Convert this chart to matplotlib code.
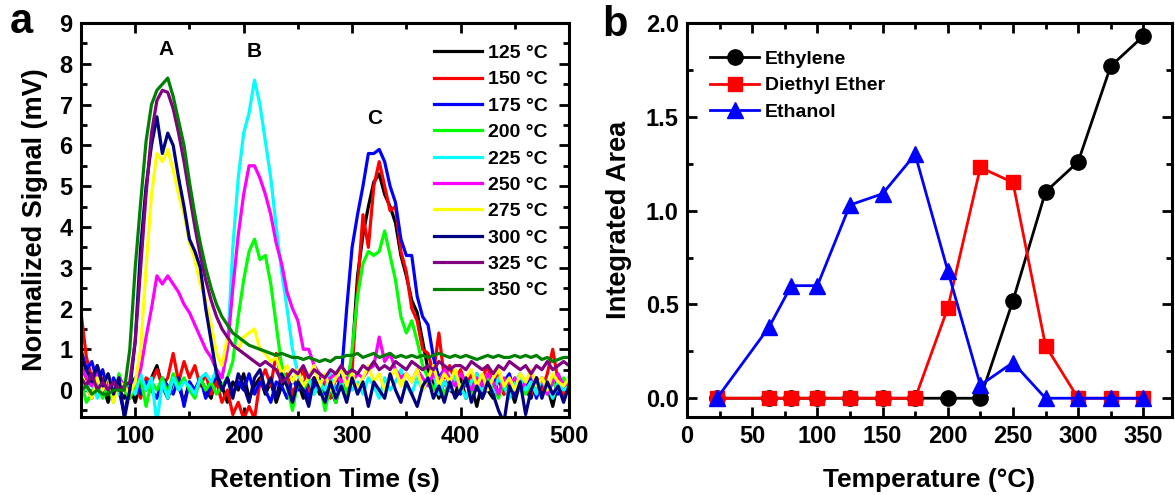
import numpy as np
import matplotlib.pyplot as plt
from matplotlib.ticker import MultipleLocator

plt.rcParams["font.family"] = ["Liberation Sans", "DejaVu Sans"]
plt.rcParams["font.weight"] = "bold"

# ---- panel a: chromatograms, sampled every 5 s from 50 to 500 s ----
time_s = np.arange(50, 501, 5)

sig_125 = [0.5, 0.1, -0.2, 0.3, 0.1, -0.3, 0.2, 0.0, -0.2, 0.1,
           -0.3, 0.2, 0.0, 0.3, 0.6, 0.1, -0.2, 0.2, 0.1, -0.3,
           0.2, -0.1, 0.3, 0.0, -0.2, 0.4, 0.1, -0.3, 0.2, 0.0,
           0.4, -0.2, 0.1, 0.3, -0.1, 0.2, -0.3, 0.1, 0.3, -0.1,
           0.2, -0.2, 0.1, 0.3, -0.1, 0.2, 0.0, -0.3, 0.2, 0.1,
           0.8, 2.8, 3.8, 4.5, 5.1, 5.3, 4.8, 4.5, 4.1, 3.3,
           2.8, 2.2, 1.9, 1.2, 0.5, 0.2, -0.2, 0.2, 0.0, -0.1,
           0.3, -0.2, 0.1, -0.4, 0.2, 0.0, -0.2, 0.3, -0.1, 0.1,
           -0.3, 0.2, 0.0, -0.2, 0.3, -0.1, 0.1, -0.4, 0.2, 0.0,
           0.1]
sig_150 = [1.9, 0.8, 0.3, 0.6, 0.2, 0.4, -0.1, 0.3, 0.0, -0.2,
           0.1, -0.2, 0.3, 0.2, 0.5, 0.1, 0.3, 0.9, 0.2, 0.7,
           0.3, 0.6, 0.1, 0.4, -0.1, 0.2, -0.3, 0.0, -0.6, -0.3,
           -0.7, -0.4, -0.7, 0.2, 0.5, 0.1, 0.9, 0.2, 0.4, -0.1,
           0.2, 0.5, -0.1, 0.3, 0.0, 0.2, -0.2, 0.3, 0.1, -0.1,
           0.5, 2.5, 4.3, 3.5, 5.0, 5.6, 5.0, 4.4, 4.5, 3.4,
           2.9, 2.0, 1.7, 1.0, 0.9, 0.4, 1.4, 0.3, 0.6, 0.2,
           0.5, 0.1, 0.4, 0.0, 0.3, 0.6, 0.1, 0.4, -0.1, 0.3,
           0.0, 0.4, 0.1, -0.1, 0.3, 0.0, 0.4, 1.0, 0.2, -0.2,
           0.3]
sig_175 = [1.0, 0.5, 0.7, 0.2, 0.5, -0.1, 0.3, 0.0, -0.6, 0.1,
           0.3, -0.1, 0.2, 0.0, -0.2, 0.3, 0.1, -0.1, 0.3, -0.4,
           0.2, 0.0, 0.3, -0.2, 0.1, 0.4, 0.0, 0.3, -0.1, 0.2,
           0.0, 0.4, -0.1, 0.2, 0.0, -0.3, 0.2, 0.1, -0.2, 0.3,
           0.0, 0.2, -0.2, 0.1, 0.3, -0.1, 0.2, 0.0, 0.3, 2.0,
           3.5, 4.3, 5.0, 5.8, 5.8, 5.9, 5.6, 5.0, 4.6, 3.7,
           3.3, 3.3, 2.3, 1.8, 1.6, 0.8, 0.3, 0.5, 0.1, 0.3,
           -0.1, 0.3, 0.0, 0.4, -0.2, 0.1, 0.3, -0.1, 0.2, 0.4,
           -0.1, 0.2, 0.0, 0.3, -0.2, 0.2, 0.0, 0.3, -0.1, 0.2,
           0.1]
sig_200 = [0.2, -0.3, -0.1, 0.2, -0.2, 0.1, -0.3, 0.4, 0.0, -0.2,
           0.1, 0.3, -0.4, 0.2, 0.0, 0.3, -0.1, 0.4, 0.1, 0.3,
           0.0, -0.2, 0.3, 0.0, 0.2, -0.1, 0.1, 0.3, 0.7, 1.8,
           2.7, 3.4, 3.7, 3.2, 3.3, 2.6, 1.6, 0.6, 0.1, -0.5,
           0.2, 0.0, 0.3, -0.1, 0.2, -0.5, 0.1, -0.3, 0.2, -0.1,
           1.0, 2.3, 3.1, 3.4, 3.3, 3.4, 3.9, 3.3, 2.7, 1.8,
           1.4, 1.7, 1.2, 0.6, 0.3, 0.0, 0.3, -0.1, 0.2, 0.4,
           0.0, 0.3, -0.1, 0.2, 0.0, 0.3, 0.1, -0.2, 0.2, 0.0,
           0.3, 0.1, -0.1, 0.2, 0.0, 0.3, -0.1, 0.2, 0.0, 0.3,
           0.1]
sig_225 = [0.3, 0.0, 0.2, -0.2, 0.1, 0.4, 0.0, -0.1, 0.2, 0.1,
           -0.1, 0.4, 0.0, 0.3, -0.8, 0.2, -0.2, 0.3, 0.0, 0.2,
           0.1, -0.1, 0.3, 0.4, 0.2, 0.5, 0.3, 1.0, 3.5, 5.2,
           6.3, 6.8, 7.6, 7.0, 6.1, 5.2, 4.0, 2.9, 2.0, 1.0,
           0.4, 0.1, 0.3, -0.1, 0.2, 0.0, 0.4, -0.2, 0.1, 0.3,
           0.0, 0.2, -0.1, 0.3, 0.1, -0.2, 0.3, 0.0, 0.2, 0.5,
           0.1, -0.1, 0.3, 0.0, 0.2, 0.4, -0.1, 0.2, 0.0, 0.3,
           0.1, -0.2, 0.2, 0.4, 0.0, 0.2, -0.1, 0.3, 0.1, -0.2,
           0.2, 0.4, 0.0, 0.2, -0.1, 0.3, 0.1, -0.2, 0.2, 0.0,
           0.1]
sig_250 = [0.6, 0.3, 0.1, 0.4, 0.0, 0.2, -0.1, 0.3, 0.1, 0.0,
           0.2, 0.5, 1.3, 2.0, 2.8, 2.6, 2.8, 2.6, 2.4, 2.1,
           1.9, 1.6, 1.3, 1.0, 0.8, 0.5, 0.3, 1.0, 2.5, 3.8,
           4.8, 5.5, 5.5, 5.2, 4.8, 4.3, 3.6, 3.1, 2.4, 2.0,
           1.7, 1.0, 1.0, 0.6, 0.4, 0.2, 0.3, 0.4, 0.2, 0.3,
           0.2, 0.4, 0.3, 0.5, 0.6, 1.3, 0.7, 0.9, 0.5, 0.3,
           0.4, 0.2, 0.5, 0.3, 0.1, 0.4, 0.2, 0.5, 0.3, 0.1,
           0.4, 0.2, 0.0, 0.3, 0.1, 0.4, 0.2, -0.1, 0.3, 0.1,
           0.3, 0.0, 0.2, 0.4, 0.1, 0.3, -0.1, 0.2, 0.4, 0.1,
           0.2]
sig_275 = [0.4, 0.1, -0.2, 0.3, 0.0, 0.4, -0.3, 0.2, 0.1, -0.1,
           0.2, 1.0, 3.0, 4.8, 5.8, 5.6, 5.9, 5.4, 4.8, 4.3,
           3.6, 3.2, 2.6, 2.2, 1.6, 0.9, 0.6, 1.3, 1.1, 1.0,
           1.3, 1.4, 1.5, 1.0, 0.9, 0.7, 0.8, 0.4, 0.6, 0.2,
           0.5, 0.1, 0.3, 0.6, 0.1, 0.4, 0.0, 0.3, 0.5, 0.1,
           0.4, 0.0, 0.3, 0.6, 0.2, 0.4, 0.0, 0.3, 0.5, 0.1,
           0.4, 0.2, 0.5, 0.0, 0.3, 0.6, 0.1, 0.4, 0.2, 0.5,
           0.0, 0.3, 0.5, 0.1, 0.4, 0.0, 0.3, 0.5, 0.1, 0.3,
           0.0, 0.4, 0.2, 0.5, 0.1, 0.3, 0.0, 0.4, 0.2, 0.1,
           0.3]
sig_300 = [0.8, 0.5, 0.2, 0.6, 0.1, 0.4, -0.1, 0.3, -0.7, 0.0,
           1.2, 3.5, 5.0, 6.0, 6.7, 5.8, 6.3, 6.0, 5.2, 4.5,
           3.7, 3.4, 3.0, 2.0, 1.2, 0.4, 0.0, 0.3, -0.2, 0.4,
           0.1, -0.3, 0.3, 0.5, 0.0, 0.3, -0.2, 0.4, 0.1, -0.3,
           0.2, 0.0, -0.4, 0.3, 0.0, -0.3, 0.2, -0.2, 0.1, -0.3,
           0.3, -0.1, 0.2, -0.4, 0.2, 0.0, -0.2, 0.4, 0.0, -0.3,
           0.2, -0.1, -0.4, 0.1, 0.3, -0.2, 0.1, -0.3, 0.2, -0.2,
           0.0, 0.3, -0.3, 0.1, -0.2, 0.2, -0.1, -0.5, -0.8, 0.1,
           -0.2, 0.2, -0.6, 0.0, 0.3, -0.2, 0.2, -0.1, 0.1, -0.3,
           0.1]
sig_325 = [0.3, 0.1, 0.4, 0.0, 0.2, 0.0, 0.2, 0.0, 0.1, 0.2,
           1.2, 3.0, 4.8, 6.3, 7.1, 7.35, 7.3, 6.9, 6.3, 5.6,
           4.8, 4.0, 3.3, 2.7, 2.2, 1.8, 1.5, 1.3, 1.1, 1.0,
           0.9, 0.8, 0.7, 0.6, 0.7, 0.6, 0.5, 0.2, 0.3, 0.5,
           0.4, 0.6, 0.3, 0.5, 0.4, 0.3, 0.5, 0.4, 0.6, 0.4,
           0.5, 0.4, 0.6, 0.5, 0.7, 0.5, 0.6, 0.5, 0.7, 0.6,
           0.5, 0.7, 0.6, 0.5, 0.6, 0.5, 0.7, 0.6, 0.5, 0.6,
           0.6, 0.5, 0.7, 0.6, 0.5, 0.6, 0.4, 0.6, 0.5, 0.7,
           0.6, 0.5, 0.6, 0.4, 0.6, 0.5, 0.7, 0.5, 0.6, 0.7,
           0.6]
sig_350 = [0.0, 0.1, -0.1, 0.0, -0.1, -0.1, 0.0, 0.0, 0.0, 1.0,
           3.0, 4.6, 6.1, 7.0, 7.35, 7.5, 7.65, 7.2, 6.6, 6.0,
           5.1, 4.3, 3.6, 3.0, 2.5, 2.1, 1.8, 1.6, 1.4, 1.3,
           1.2, 1.1, 1.05, 1.0, 0.95, 0.9, 0.85, 0.9, 0.85, 0.8,
           0.8, 0.75, 0.8, 0.75, 0.7, 0.75, 0.7, 0.8, 0.8, 0.85,
           0.85, 0.9, 0.8, 0.85, 0.9, 0.8, 0.85, 0.9, 0.8, 0.85,
           0.8, 0.85, 0.8, 0.85, 0.8, 0.85, 0.9, 0.85, 0.8, 0.85,
           0.8, 0.85, 0.8, 0.75, 0.8, 0.85, 0.8, 0.85, 0.8, 0.8,
           0.85, 0.8, 0.85, 0.8, 0.85, 0.75, 0.8, 0.7, 0.75, 0.8,
           0.8]

trace_labels = ["125 °C", "150 °C", "175 °C", "200 °C", "225 °C",
                "250 °C", "275 °C", "300 °C", "325 °C", "350 °C"]
trace_colors = ["black", "#ff0000", "#0000ff", "#00ff00", "#00ffff",
                "#ff00ff", "#ffff00", "#000080", "#800080", "#008000"]
traces = [sig_125, sig_150, sig_175, sig_200, sig_225,
          sig_250, sig_275, sig_300, sig_325, sig_350]

peak_names = ["A", "B", "C"]
peak_x = [128, 210, 321]
peak_y = [8.35, 8.3, 6.65]

# ---- panel b: integrated areas ----
temp_c = [23, 63, 80, 100, 125, 150, 175, 200, 225, 250, 275, 300, 325, 350]
ethylene = [0, 0, 0, 0, 0, 0, 0, 0, 0, 0.52, 1.10, 1.26, 1.77, 1.93]
diethyl_ether = [0, 0, 0, 0, 0, 0, 0, 0.48, 1.23, 1.15, 0.28, 0, 0, 0]
ethanol = [0, 0.38, 0.60, 0.60, 1.03, 1.09, 1.30, 0.68, 0.07, 0.19, 0, 0, 0, 0]


def style_axes(ax):
    for s in ax.spines.values():
        s.set_linewidth(2.2)
    ax.tick_params(which="both", direction="in", top=True, right=True,
                   width=2, labelsize=17, pad=6)
    ax.tick_params(which="major", length=7)
    ax.tick_params(which="minor", length=4)
    for lab in ax.get_xticklabels() + ax.get_yticklabels():
        lab.set_fontweight("bold")


fig = plt.figure(figsize=(11.75, 4.95), dpi=100)
ax_a = fig.add_axes([81 / 1175, 78 / 495, 488 / 1175, 394 / 495])
ax_b = fig.add_axes([687 / 1175, 78 / 495, 485 / 1175, 394 / 495])

for sig, col, lab in zip(traces, trace_colors, trace_labels):
    ax_a.plot(time_s, sig, color=col, lw=2.3, label=lab)

for name, x, y in zip(peak_names, peak_x, peak_y):
    ax_a.text(x, y, name, ha="center", va="center", fontsize=15, fontweight="bold")

ax_a.set_xlim(50, 500)
ax_a.set_ylim(-0.66, 9)
ax_a.xaxis.set_major_locator(MultipleLocator(100))
ax_a.xaxis.set_minor_locator(MultipleLocator(50))
ax_a.yaxis.set_major_locator(MultipleLocator(1))
ax_a.yaxis.set_minor_locator(MultipleLocator(0.5))
ax_a.set_xlabel("Retention Time (s)", fontsize=19, fontweight="bold", labelpad=14)
ax_a.set_ylabel("Normalized Signal (mV)", fontsize=19.5, fontweight="bold", labelpad=8)
style_axes(ax_a)
leg_a = ax_a.legend(loc="upper right", bbox_to_anchor=(0.985, 0.98), frameon=False,
                    fontsize=14, handlelength=2.5, handletextpad=0.3,
                    labelspacing=0.45, borderpad=0.2)
for t in leg_a.get_texts():
    t.set_fontweight("bold")

ax_b.plot(temp_c, ethylene, "-o", color="black", lw=2, ms=11, label="Ethylene")
ax_b.plot(temp_c, diethyl_ether, "-s", color="#ff0000", lw=2, ms=10, label="Diethyl Ether")
ax_b.plot(temp_c, ethanol, "-^", color="#0000ff", lw=2, ms=11, label="Ethanol")
ax_b.set_xlim(0, 372)
ax_b.set_ylim(-0.1, 2.0)
ax_b.xaxis.set_major_locator(MultipleLocator(50))
ax_b.xaxis.set_minor_locator(MultipleLocator(25))
ax_b.yaxis.set_major_locator(MultipleLocator(0.5))
ax_b.yaxis.set_minor_locator(MultipleLocator(0.25))
ax_b.yaxis.set_major_formatter(plt.FormatStrFormatter("%.1f"))
ax_b.set_xlabel("Temperature (°C)", fontsize=19, fontweight="bold", labelpad=14)
ax_b.set_ylabel("Integrated Area", fontsize=19.5, fontweight="bold", labelpad=10)
style_axes(ax_b)
leg_b = ax_b.legend(loc="upper left", bbox_to_anchor=(0.02, 0.965), frameon=False,
                    fontsize=14, handlelength=2.5, handletextpad=0.3,
                    labelspacing=0.45, borderpad=0.2)
for t in leg_b.get_texts():
    t.set_fontweight("bold")

fig.text(0.008, 0.955, "a", fontsize=30, fontweight="bold", va="center")
fig.text(0.513, 0.95, "b", fontsize=30, fontweight="bold", va="center")

fig.savefig("out.png", dpi=100)
